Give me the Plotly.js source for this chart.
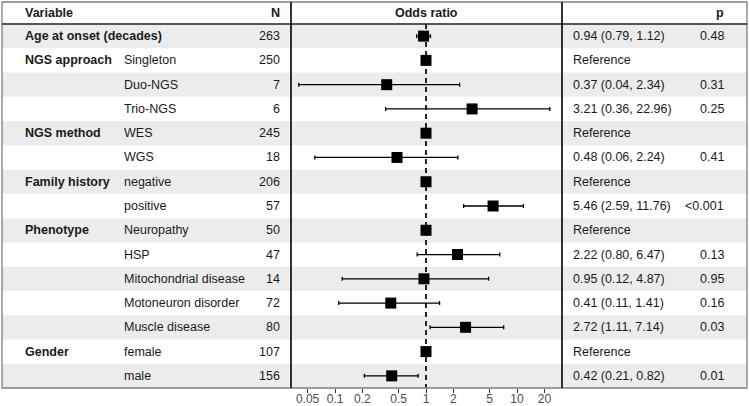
<!DOCTYPE html>
<html>
<head>
<meta charset="utf-8">
<script src="https://cdn.plot.ly/plotly-3.0.1.min.js"></script>
<style>html,body{margin:0;padding:0;background:#fff;}#chart{width:749px;height:406px;}</style>
</head>
<body>
<div id="chart"></div>
<script>
// ---- data ----
const groups = ["Age at onset (decades)", "NGS approach", "", "", "NGS method", "", "Family history", "", "Phenotype", "", "", "", "", "Gender", ""];
const levels = ["", "Singleton", "Duo-NGS", "Trio-NGS", "WES", "WGS", "negative", "positive", "Neuropathy", "HSP", "Mitochondrial disease", "Motoneuron disorder", "Muscle disease", "female", "male"];
const counts = [263, 250, 7, 6, 245, 18, 206, 57, 50, 47, 14, 72, 80, 107, 156];
const oddsRatio = [0.94, 1, 0.37, 3.21, 1, 0.48, 1, 5.46, 1, 2.22, 0.95, 0.41, 2.72, 1, 0.42];
const ciLower = [0.79, null, 0.04, 0.36, null, 0.06, null, 2.59, null, 0.80, 0.12, 0.11, 1.11, null, 0.21];
const ciUpper = [1.12, null, 2.34, 22.96, null, 2.24, null, 11.76, null, 6.47, 4.87, 1.41, 7.14, null, 0.82];
const estimateText = ["0.94 (0.79, 1.12)", "Reference", "0.37 (0.04, 2.34)", "3.21 (0.36, 22.96)", "Reference", "0.48 (0.06, 2.24)", "Reference", "5.46 (2.59, 11.76)", "Reference", "2.22 (0.80, 6.47)", "0.95 (0.12, 4.87)", "0.41 (0.11, 1.41)", "2.72 (1.11, 7.14)", "Reference", "0.42 (0.21, 0.82)"];
const pValues = ["0.48", "", "0.31", "0.25", "", "0.41", "", "<0.001", "", "0.13", "0.95", "0.16", "0.03", "", "0.01"];
const tickValues = [0.05, 0.1, 0.2, 0.5, 1, 2, 5, 10, 20];
const tickLabels = ["0.05", "0.1", "0.2", "0.5", "1", "2", "5", "10", "20"];
const headerVariable = "Variable", headerN = "N", headerOR = "Odds ratio", headerP = "p";

(function () {
// ---- layout geometry (pixels) ----
const W = 749, H = 406;
const edgeL = 2, edgeR = 747, edgeT = 2, headBottom = 24, edgeB = 388;
const panelL = 291, panelR = 562, oneX = 426, decade = 91;
const px = v => v / W;
const py = v => 1 - v / H;
const FONT = "Liberation Sans, Arial, Helvetica, sans-serif";
const FS = 12.5;

const rows = levels.map((_, i) => i);
const errPlus = oddsRatio.map((v, i) => ciUpper[i] == null ? null : ciUpper[i] - v);
const errMinus = oddsRatio.map((v, i) => ciLower[i] == null ? null : v - ciLower[i]);

const traces = [
  {
    x: [1, 1], y: [-0.5, rows.length - 0.5], mode: "lines", type: "scatter",
    line: {color: "#000", width: 1.7, dash: "5px,4px"}, hoverinfo: "skip", showlegend: false
  },
  {
    x: oddsRatio, y: rows, mode: "markers", type: "scatter",
    marker: {symbol: "square", size: 11, color: "#000"},
    error_x: {type: "data", symmetric: false, array: errPlus, arrayminus: errMinus,
              color: "#000", thickness: 1.3, width: 2},
    hoverinfo: "skip", showlegend: false
  }
];

const shapes = [];
rows.forEach(i => {
  if (i % 2 === 0) {
    shapes.push({type: "rect", xref: "paper", yref: "y", layer: "below",
      x0: px(edgeL), x1: px(edgeR), y0: i - 0.5, y1: i + 0.5,
      fillcolor: "#ececec", line: {width: 0}});
  }
});
shapes.push({type: "rect", xref: "paper", yref: "paper", x0: px(edgeL), x1: px(edgeR), y0: py(edgeB), y1: py(edgeT),
  line: {color: "#7f7f7f", width: 1.3}, fillcolor: "rgba(0,0,0,0)"});
shapes.push({type: "line", xref: "paper", yref: "paper", x0: px(edgeL), x1: px(edgeR), y0: py(headBottom), y1: py(headBottom),
  line: {color: "#222", width: 1.3}});
[panelL, panelR].forEach(xv => shapes.push({type: "line", xref: "paper", yref: "paper",
  x0: px(xv), x1: px(xv), y0: py(edgeB), y1: py(edgeT), line: {color: "#000", width: 1.6}}));

const annotations = [];
const ann = (x, y, text, anchor, bold, yref) => annotations.push({
  xref: "paper", yref: yref || "y", x: px(x), y: y, text: bold ? "<b>" + text + "</b>" : text,
  xanchor: anchor, yanchor: "middle", showarrow: false, borderpad: 0,
  font: {family: FONT, size: FS, color: "#1a1a1a"}
});
ann(24, py(13), headerVariable, "left", true, "paper");
ann(281, py(13), headerN, "right", true, "paper");
ann(oneX, py(13), headerOR, "center", true, "paper");
ann(725, py(13), headerP, "right", true, "paper");
rows.forEach(i => {
  if (groups[i]) ann(24, i, groups[i], "left", true);
  if (levels[i]) ann(123, i, levels[i], "left", false);
  ann(281, i, String(counts[i]), "right", false);
  ann(572, i, estimateText[i], "left", false);
  if (pValues[i]) ann(725, i, pValues[i], "right", false);
});

const layout = {
  width: W, height: H,
  margin: {l: 0, r: 0, t: 0, b: 0, pad: 0},
  paper_bgcolor: "#fff", plot_bgcolor: "rgba(0,0,0,0)",
  showlegend: false,
  xaxis: {
    type: "log", domain: [px(panelL), px(panelR)],
    range: [-(oneX - panelL) / decade, (panelR - oneX) / decade],
    tickvals: tickValues, ticktext: tickLabels,
    ticks: "outside", ticklen: 4, tickwidth: 1, tickcolor: "#333",
    ticklabelstandoff: -4,
    showgrid: false, zeroline: false, showline: false,
    tickfont: {family: FONT, size: 12, color: "#4d4d4d"}, fixedrange: true
  },
  yaxis: {
    domain: [py(edgeB), py(headBottom)], range: [rows.length - 0.5, -0.5],
    visible: false, showgrid: false, zeroline: false, fixedrange: true
  },
  shapes: shapes,
  annotations: annotations
};

Plotly.newPlot("chart", traces, layout, {displayModeBar: false, staticPlot: true});
})();
</script>
</body>
</html>
